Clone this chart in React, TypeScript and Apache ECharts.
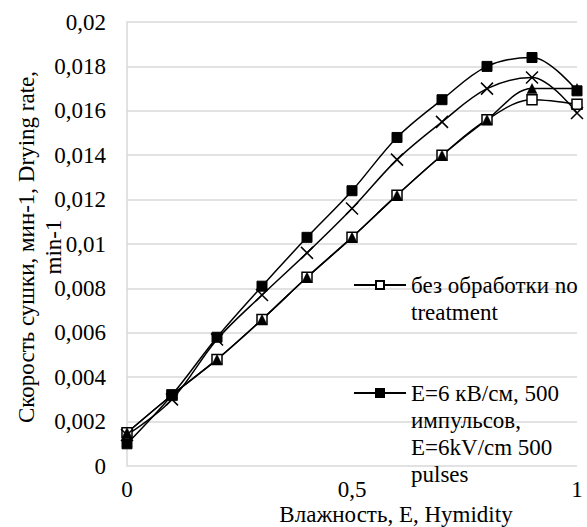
import React, { useEffect, useRef } from "react";
import * as echarts from "echarts";

const humidity = [0, 0.1, 0.2, 0.3, 0.4, 0.5, 0.6, 0.7, 0.8, 0.9, 1];
const noTreatment = [0.0015, 0.0032, 0.0048, 0.0066, 0.0085, 0.0103, 0.0122, 0.014, 0.0156, 0.0165, 0.0163];
const e6kV500 = [0.001, 0.0032, 0.0058, 0.0081, 0.0103, 0.0124, 0.0148, 0.0165, 0.018, 0.0184, 0.0169];
const series3 = [0.0015, 0.0032, 0.0048, 0.0066, 0.0085, 0.0103, 0.0122, 0.014, 0.0156, 0.017, 0.017];
const series4 = [0.0014, 0.003, 0.0057, 0.0077, 0.0096, 0.0116, 0.0138, 0.0155, 0.017, 0.0175, 0.0159];

const name1 = "без обработки no treatment";
const name2 = "E=6 кВ/см, 500 импульсов, E=6kV/cm 500 pulses";
const name3 = "Ряд 3";
const name4 = "Ряд 4";
const legendLines: Record<string, string[]> = {
  [name1]: ["без обработки no", "treatment"],
  [name2]: ["E=6 кВ/см, 500", "импульсов,", "E=6kV/cm 500", "pulses"],
};
const yTitle = "Скорость сушки, мин-1, Drying rate,\nmin-1";
const xTitle = "Влажность, E, Hymidity";

const FONT = "Liberation Serif, serif";
const FS = 23;
const LH = 27;

function fmt(v: number) {
  return String(Number(v.toFixed(4))).replace(".", ",");
}

export default function App() {
  const ref = useRef<HTMLDivElement>(null);
  useEffect(() => {
    document.body.style.margin = "0";
    const chart = echarts.init(ref.current!, null, { renderer: "svg" });
    const pairs = (arr: number[]) => humidity.map((x, i) => [x, arr[i]]);
    const lineStyle = { color: "#000", width: 1.5 };
    const mk = (name: string, data: number[], symbol: string, size: number, fill: string, bw: number) => ({
      type: "line",
      name,
      data: pairs(data),
      smooth: 0.35,
      symbol,
      symbolSize: size,
      showSymbol: true,
      lineStyle,
      itemStyle: { color: fill, borderColor: "#000", borderWidth: bw },
      emphasis: { disabled: true },
    });
    // first line of the legend text is aligned with the icon
    const legendFormatter = (n: string) => {
      const lines = legendLines[n] ?? [n];
      return new Array(lines.length - 1).fill(" ").concat(lines).join("\n");
    };
    const legendBase = {
      orient: "vertical",
      padding: 0,
      itemWidth: 52,
      itemHeight: 10,
      selectedMode: false,
      formatter: legendFormatter,
      textStyle: { color: "#000", fontSize: FS, fontFamily: FONT, lineHeight: LH },
    };
    chart.setOption({
      animation: false,
      textStyle: { fontFamily: FONT },
      grid: { left: 127, right: 10, top: 22, bottom: 61, containLabel: false },
      xAxis: {
        type: "value",
        min: 0,
        max: 1,
        interval: 0.5,
        axisLine: { show: false },
        axisTick: { show: false },
        splitLine: { show: false },
        axisLabel: { color: "#000", fontSize: FS, fontFamily: FONT, margin: 12, formatter: fmt },
      },
      yAxis: {
        type: "value",
        min: 0,
        max: 0.02,
        interval: 0.002,
        axisLine: { show: true, lineStyle: { color: "#d9d9d9", width: 1.5 } },
        axisTick: { show: false },
        splitLine: { show: true, lineStyle: { color: "#d9d9d9", width: 1.5 } },
        axisLabel: { color: "#000", fontSize: FS, fontFamily: FONT, margin: 21, formatter: fmt },
      },
      legend: [
        { ...legendBase, data: [name1], left: 353, top: 280 - 1.5 * LH + 5 },
        { ...legendBase, data: [name2], left: 353, top: 388 - 3.5 * LH + 5 },
      ],
      graphic: [
        {
          type: "text",
          x: 40,
          y: 247,
          rotation: Math.PI / 2,
          style: {
            text: yTitle,
            fill: "#000",
            fontSize: FS,
            fontFamily: FONT,
            align: "center",
            verticalAlign: "middle",
            lineHeight: LH,
          },
        },
        {
          type: "text",
          x: 396,
          y: 514,
          style: {
            text: xTitle,
            fill: "#000",
            fontSize: FS,
            fontFamily: FONT,
            align: "center",
            verticalAlign: "middle",
          },
        },
      ],
      series: [
        mk(name1, noTreatment, "rect", 10, "#fff", 1.5),
        mk(name2, e6kV500, "rect", 10, "#000", 1),
        mk(name3, series3, "triangle", 10, "#000", 0.5),
        mk(name4, series4, "path://M0,0L10,10M10,0L0,10", 12, "#000", 1.5),
      ],
    });
    return () => chart.dispose();
  }, []);
  return <div ref={ref} style={{ width: 587, height: 527 }} />;
}
